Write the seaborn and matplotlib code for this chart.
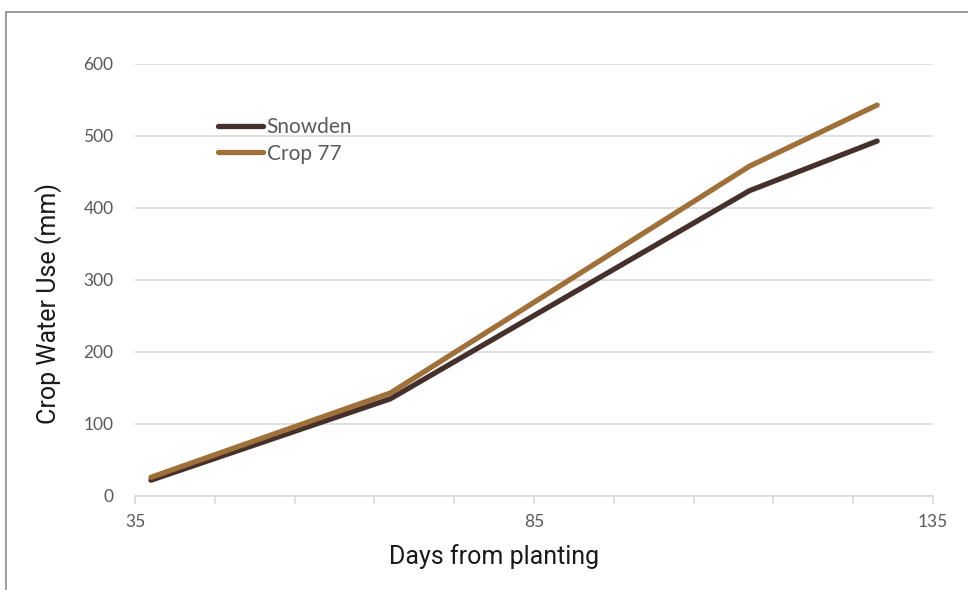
import numpy as np
import pandas as pd
import seaborn as sns
from matplotlib import pyplot as plt
from matplotlib.lines import Line2D
from matplotlib.ticker import MultipleLocator, FixedLocator

# Data
days = [37, 67, 112, 128]
snowden = [22, 135, 424, 493]
crop77 = [26, 143, 458, 543]

series_names = ['Snowden', 'Crop 77']
series_colors = ['#45302b', '#a0703a']

df = pd.DataFrame({
    'day': days * 2,
    'water': snowden + crop77,
    'variety': ['Snowden'] * len(days) + ['Crop 77'] * len(days),
})

sns.set_style('white')
plt.rcParams['font.family'] = ['Lato', 'DejaVu Sans']

fig = plt.figure(figsize=(9.68, 5.90), dpi=100)
ax = fig.add_axes([135 / 968, 1 - 496 / 590, (933 - 135) / 968, (496 - 64) / 590])

sns.lineplot(data=df, x='day', y='water', hue='variety', hue_order=series_names,
             palette=series_colors, linewidth=3.8, ax=ax, legend=False,
             solid_capstyle='round', solid_joinstyle='round')

ax.set_xlim(35, 135)
ax.set_ylim(0, 600)
ax.yaxis.set_major_locator(MultipleLocator(100))
ax.xaxis.set_major_locator(FixedLocator([35, 85, 135]))
ax.xaxis.set_minor_locator(MultipleLocator(10, offset=5))
ax.grid(axis='y', color='#d9d9d9', linewidth=1.2)
ax.set_axisbelow(True)

for s in ['left', 'right', 'top']:
    ax.spines[s].set_visible(False)
ax.spines['bottom'].set_color('#d9d9d9')
ax.spines['bottom'].set_linewidth(1.2)

ax.tick_params(axis='x', which='both', bottom=True, length=6, width=1.2, color='#d9d9d9',
               direction='out', labelsize=12.5, labelcolor='#595959', pad=7)
ax.tick_params(axis='y', left=False, labelsize=12.5, labelcolor='#595959', pad=12)

ax.set_xlabel('Days from planting', fontsize=18, color='#1a1a1a', family=['Roboto', 'DejaVu Sans'])
ax.set_ylabel('Crop Water Use (mm)', fontsize=18, color='#1a1a1a', family=['Roboto', 'DejaVu Sans'])
ax.xaxis.set_label_coords((494 - 135) / 798, -0.111)
ax.yaxis.set_label_coords(-0.092, (496 - 303) / 432)

handles = [Line2D([0], [0], color=c, linewidth=3.8, solid_capstyle='round') for c in series_colors]
ax.legend(handles, series_names, loc='upper left', bbox_to_anchor=(0.093, 0.896), frameon=False,
          fontsize=15, labelcolor='#595959', handlelength=2.2, handletextpad=0.15, labelspacing=0.3,
          borderaxespad=0)

# outer chart frame (only left and top edges fall inside the picture)
fig.add_artist(Line2D([6 / 968, 6 / 968], [0, 1 - 12 / 590], color='#8c8c8c', linewidth=1.2,
                      transform=fig.transFigure))
fig.add_artist(Line2D([6 / 968, 1], [1 - 12 / 590, 1 - 12 / 590], color='#8c8c8c', linewidth=1.2,
                      transform=fig.transFigure))

fig.savefig('out.png', dpi=100)
